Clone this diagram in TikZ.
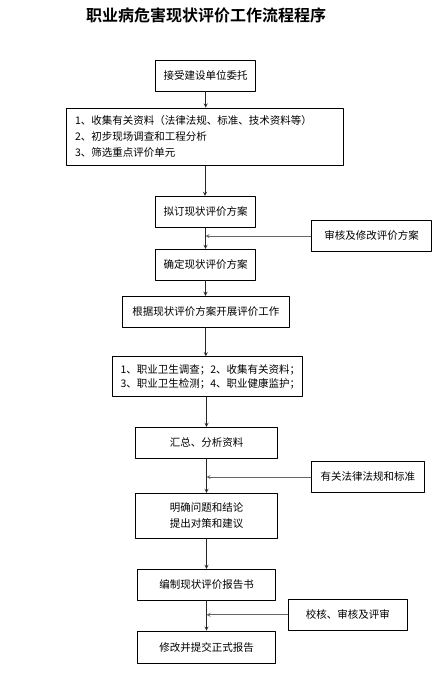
\documentclass[tikz,border=0pt]{standalone}
\usepackage{fontspec}
\setmainfont{Noto Sans CJK SC}[BoldFont={Noto Sans CJK SC Bold}]
\usepackage{tikz}
\usetikzlibrary{arrows}

\begin{document}
\begin{tikzpicture}[line cap=round,line join=round,>=stealth,x=1pt,y=-1pt,
		box/.style={draw,line width=0.9pt,font=\fontsize{10.5}{15}\selectfont,inner sep=0pt,align=center},
		flow/.style={->,line width=0.8pt,black!85},
		side/.style={->,line width=0.8pt,black!60}]
		\useasboundingbox (0,0) rectangle (444,683);
		\node[font=\fontsize{16}{18}\selectfont\bfseries] (title) at (206,15) {职业病危害现状评价工作流程程序};
		\node[box,minimum width=100pt,minimum height=31pt] (accept) at (205.7,75.5) {接受建设单位委托};
		\node[box,minimum width=276.6pt,minimum height=57.7pt,text width=260pt,align=left,font=\fontsize{10.5}{16}\selectfont] (collect) at (205,136.8) {1、收集有关资料（法律法规、标准、技术资料等）\\2、初步现场调查和工程分析\\3、筛选重点评价单元};
		\node[box,minimum width=100.4pt,minimum height=31.5pt] (draft) at (205.5,212) {拟订现状评价方案};
		\node[box,minimum width=120.4pt,minimum height=30.6pt] (review) at (371.5,236) {审核及修改评价方案};
		\node[box,minimum width=100.4pt,minimum height=30.7pt] (confirm) at (205.5,264.7) {确定现状评价方案};
		\node[box,minimum width=167pt,minimum height=31pt] (carry) at (205.8,311.7) {根据现状评价方案开展评价工作};
		\node[box,minimum width=189.6pt,minimum height=40pt,text width=174pt,align=left,font=\fontsize{10.5}{14.3}\selectfont] (survey) at (207.5,376.7) {1、职业卫生调查；2、收集有关资料；\\3、职业卫生检测；4、职业健康监护；};
		\node[box,minimum width=141.6pt,minimum height=31pt] (summary) at (206.5,442.8) {汇总、分析资料};
		\node[box,minimum width=113pt,minimum height=30.6pt] (laws) at (367.8,477) {有关法律法规和标准};
		\node[box,minimum width=141.6pt,minimum height=45pt,font=\fontsize{10.5}{15.7}\selectfont] (conclude) at (206.5,515.8) {明确问题和结论\\提出对策和建议};
		\node[box,minimum width=138.4pt,minimum height=31pt] (compile) at (206.5,584.8) {编制现状评价报告书};
		\node[box,minimum width=119pt,minimum height=31pt] (check) at (347.8,614.8) {校核、审核及评审};
		\node[box,minimum width=138.4pt,minimum height=32.3pt] (submit) at (206.5,647.2) {修改并提交正式报告};
		\draw[flow] (accept.south) -- (accept.south |- collect.north);
		\draw[flow] (collect.south) -- (collect.south |- draft.north);
		\draw[flow] (draft.south) -- (draft.south |- confirm.north);
		\draw[flow] (confirm.south) -- (confirm.south |- carry.north);
		\draw[flow] (carry.south) -- (carry.south |- survey.north);
		\draw[flow] (survey.south -| summary.north) -- (summary.north);
		\draw[flow] (summary.south) -- (conclude.north);
		\draw[flow] (conclude.south) -- (compile.north);
		\draw[flow] (compile.south) -- (submit.north);
		\draw[side] (review.west) -- (review.west -| draft.south);
		\draw[side] (laws.west) -- (laws.west -| summary.south);
		\draw[side] (check.west) -- (check.west -| compile.south);
\end{tikzpicture}
\end{document}
